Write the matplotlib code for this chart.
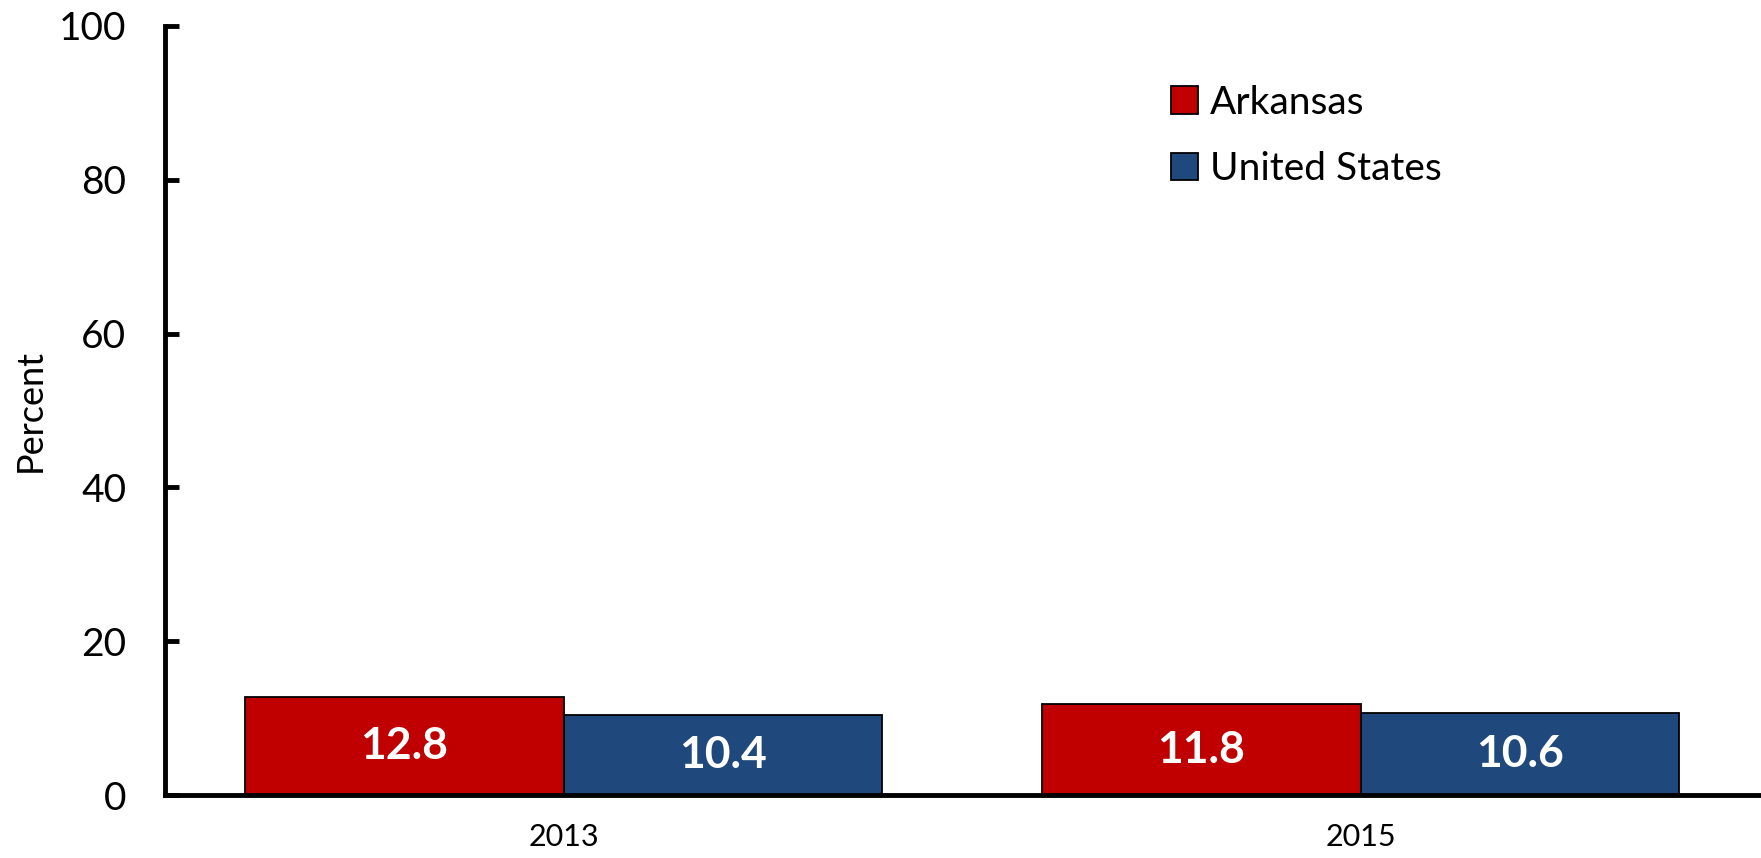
import matplotlib
matplotlib.use("Agg")
import matplotlib.pyplot as plt
import numpy as np

years = ["2013", "2015"]
series_names = ["Arkansas", "United States"]
arkansas = [12.8, 11.8]
united_states = [10.4, 10.6]
colors = ["#C00000", "#1F497D"]
yticks = [0, 20, 40, 60, 80, 100]

plt.rcParams['font.family'] = ['Lato', 'DejaVu Sans']

fig = plt.figure(figsize=(17.61, 8.58), dpi=100)
ax = fig.add_axes([165/1761, 1 - 795/858, (1759-165)/1761, (795-26)/858])

x = np.arange(len(years))
w = 0.4
for i, (vals, name, c) in enumerate(zip([arkansas, united_states], series_names, colors)):
    pos = x + (i - 0.5) * w
    bars = ax.bar(pos, vals, width=w, color=c, edgecolor="black", linewidth=1.3, label=name, zorder=2)
    for b, v in zip(bars, vals):
        ax.text(b.get_x() + b.get_width()/2, v/2, f"{v:.1f}", ha="center", va="center",
                color="white", fontsize=32, fontweight="bold", zorder=3)

ax.set_xlim(-0.5, 1.5)
ax.set_ylim(0, 100)
ax.set_xticks(x)
ax.set_xticklabels(years, fontsize=22)
ax.set_yticks(yticks)
ax.set_yticklabels([str(t) for t in yticks], fontsize=28)
ax.tick_params(axis="y", direction="in", length=10, width=3.5, pad=28)
ax.tick_params(axis="x", length=0, pad=20)
for s in ["top", "right"]:
    ax.spines[s].set_visible(False)
for s in ["left", "bottom"]:
    ax.spines[s].set_linewidth(3.5)
ax.set_ylabel("Percent", fontsize=26)
ax.yaxis.set_label_coords(-0.074, 0.5)

leg = ax.legend(loc="upper left", bbox_to_anchor=(0.6215, 0.944), frameon=False, fontsize=28,
                handlelength=0.7, handleheight=0.7, handletextpad=0.3, labelspacing=0.78,
                borderaxespad=0)

fig.savefig("out.png", dpi=100)
